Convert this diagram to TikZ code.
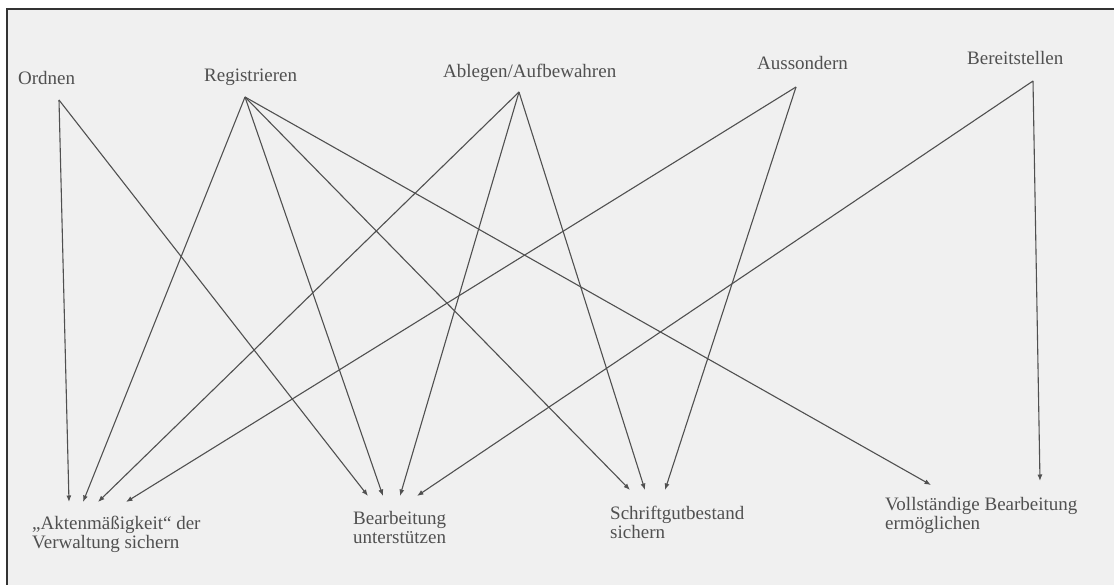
\documentclass[tikz,border=0pt]{standalone}
\usepackage{fontspec}
\setmainfont{Liberation Serif}
\usetikzlibrary{arrows.meta}
\definecolor{paper}{HTML}{F0F0F0}
\definecolor{ink}{HTML}{505050}
\definecolor{rahmen}{HTML}{333333}
\tikzset{
  lbl/.style={anchor=base west, inner sep=0pt, text=ink, font=\fontsize{19}{19}\selectfont},
  ziel/.style={anchor=west, inner sep=0pt, text=ink, align=left, font=\fontsize{19}{19}\selectfont},
  pfeil/.style={draw=ink, line width=1.1pt, -{Latex[length=6.5pt,width=5pt]}}
}
\begin{document}
\begin{tikzpicture}[x=1pt,y=-1pt]
  \useasboundingbox (0,0) rectangle (1114,585);
  \fill[white] (0,0) rectangle (1114,585);
  \fill[paper] (7,9) rectangle (1114,585);
  \draw[rahmen, line width=2pt] (7,585) -- (7,9) -- (1114,9);

  \node[lbl] (O) at (18,85) {Ordnen};
  \node[lbl] (R) at (204,82) {Registrieren};
  \node[lbl] (L) at (443,78) {Ablegen/Aufbewahren};
  \node[lbl] (U) at (757,70) {Aussondern};
  \node[lbl] (B) at (967,65) {Bereitstellen};

  \node[ziel] (Akt) at (32,534) {„Aktenmäßigkeit“ der\\Verwaltung sichern};
  \node[ziel] (Bea) at (353,527) {Bearbeitung\\unterstützen};
  \node[ziel] (Sch) at (610,522) {Schriftgutbestand\\sichern};
  \node[ziel] (Vol) at (885,515) {Vollständige Bearbeitung\\ermöglichen};

  \coordinate (o) at (59,100);
  \coordinate (r) at (245,97);
  \coordinate (l) at (519,92);
  \coordinate (u) at (796,87);
  \coordinate (b) at (1033,81);

  \coordinate (akt1) at (69,502);
  \coordinate (akt2) at (83,502);
  \coordinate (akt3) at (98,502);
  \coordinate (akt4) at (126,502);
  \coordinate (bea1) at (368,496);
  \coordinate (bea2) at (383,496);
  \coordinate (bea3) at (400,496);
  \coordinate (bea4) at (417,496);
  \coordinate (sch1) at (630,490);
  \coordinate (sch2) at (645,490);
  \coordinate (sch3) at (665,490);
  \coordinate (vol1) at (931,485);
  \coordinate (vol2) at (1040,481);

  \draw[pfeil] (o) -- (akt1);
  \draw[pfeil] (o) -- (bea1);
  \draw[pfeil] (r) -- (akt2);
  \draw[pfeil] (r) -- (bea2);
  \draw[pfeil] (r) -- (sch1);
  \draw[pfeil] (r) -- (vol1);
  \draw[pfeil] (l) -- (akt3);
  \draw[pfeil] (l) -- (bea3);
  \draw[pfeil] (l) -- (sch2);
  \draw[pfeil] (u) -- (akt4);
  \draw[pfeil] (u) -- (sch3);
  \draw[pfeil] (b) -- (bea4);
  \draw[pfeil] (b) -- (vol2);
\end{tikzpicture}
\end{document}
